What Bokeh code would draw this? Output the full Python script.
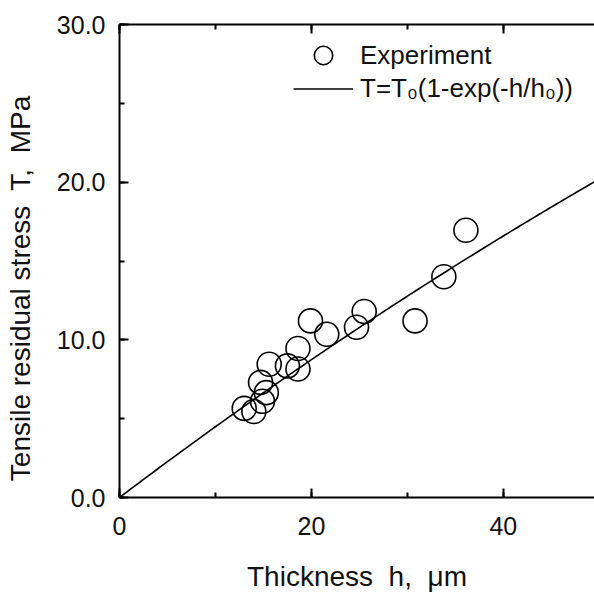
import numpy as np
from bokeh.plotting import figure
from bokeh.models import (LinearAxis, SingleIntervalTicker, NumeralTickFormatter,
                          Range1d, Legend, LegendItem, ColumnDataSource)
from bokeh.embed import file_html
from bokeh.resources import INLINE

thickness = [36.1, 33.8, 30.8, 25.5, 24.7, 19.9, 21.6, 18.6, 18.6, 17.5,
             15.6, 14.7, 15.3, 14.9, 13.0, 14.0]
stress = [16.95, 14.0, 11.2, 11.8, 10.8, 11.2, 10.35, 9.45, 8.15, 8.35,
          8.45, 7.3, 6.65, 6.1, 5.65, 5.45]

# Fit model T = T0 (1 - exp(-h/h0))
T0 = 85.3
h0 = 185.0
h_fit = np.linspace(0, 50, 201)
T_fit = T0 * (1 - np.exp(-h_fit / h0))

FONT = "Liberation Sans"

p = figure(width=594, height=594, output_backend="svg", toolbar_location=None,
           x_range=Range1d(0, 49.5), y_range=Range1d(0, 30),
           x_axis_location=None, y_axis_location=None,
           min_border_left=119, min_border_right=0, min_border_top=24,
           min_border_bottom=94)
p.outline_line_color = None
p.xgrid.visible = False
p.ygrid.visible = False
p.background_fill_color = "white"
p.border_fill_color = "white"

def style_axis(ax):
    ax.axis_line_width = 2
    ax.axis_line_color = "black"
    ax.major_tick_in = 9
    ax.major_tick_out = 0
    ax.minor_tick_in = 5
    ax.minor_tick_out = 0
    ax.major_tick_line_width = 2
    ax.minor_tick_line_width = 2
    ax.major_tick_line_color = "black"
    ax.minor_tick_line_color = "black"
    ax.major_label_text_font = FONT
    ax.major_label_text_font_size = "25px"
    ax.major_label_text_color = "#111111"
    ax.axis_label_text_font = FONT
    ax.axis_label_text_font_size = "28px"
    ax.axis_label_text_font_style = "normal"
    ax.axis_label_text_color = "#111111"

xaxis = LinearAxis(ticker=SingleIntervalTicker(interval=20, num_minor_ticks=2),
                   axis_label="Thickness\u00a0 h,\u00a0 \u03bcm")
style_axis(xaxis)
xaxis.major_label_standoff = 19
xaxis.axis_label_standoff = 23
p.add_layout(xaxis, "below")

yaxis = LinearAxis(ticker=SingleIntervalTicker(interval=10, num_minor_ticks=2),
                   formatter=NumeralTickFormatter(format="0.0"),
                   axis_label="Tensile residual stress\u00a0 T,\u00a0 MPa" + "\u00a0" * 7)
style_axis(yaxis)
yaxis.major_label_standoff = 14
yaxis.axis_label_standoff = 18
p.add_layout(yaxis, "left")

top = LinearAxis(ticker=SingleIntervalTicker(interval=20, num_minor_ticks=2))
style_axis(top)
top.major_label_text_color = None
top.major_label_standoff = 0
p.add_layout(top, "above")

src = ColumnDataSource(dict(h=thickness, T=stress))
pts = p.scatter("h", "T", source=src, marker="circle", size=24,
                fill_color=None, line_color="black", line_width=1.6)
fit = p.line(h_fit, T_fit, line_color="black", line_width=1.6)

common = dict(orientation="vertical", glyph_width=60, label_standoff=7,
              padding=0, spacing=0, margin=0, border_line_color=None,
              background_fill_alpha=0, label_text_font=FONT,
              label_text_font_size="26px", label_text_color="#111111")

legend_pts = Legend(items=[LegendItem(label="Experiment", renderers=[pts])],
                    location=(174, 419), glyph_height=46, label_height=46, **common)
legend_fit = Legend(items=[LegendItem(label="T=T\u2080(1-exp(-h/h\u2080))", renderers=[fit])],
                    location=(174, 392), glyph_height=33, label_height=33, **common)
p.add_layout(legend_pts, "center")
p.add_layout(legend_fit, "center")

open("out.html", "w").write(file_html(p, INLINE))
